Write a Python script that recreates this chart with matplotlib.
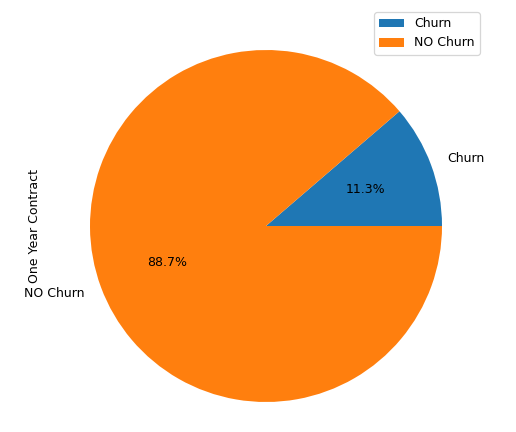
import matplotlib
matplotlib.use("Agg")
import matplotlib.pyplot as plt

# data
labels = ["Churn", "NO Churn"]
values = [11.3, 88.7]
colors = ["#1f77b4", "#ff7f0e"]

fig = plt.figure(figsize=(516 / 90, 432 / 90), dpi=90)
ax = fig.add_axes([46 / 516, -14 / 432, 440 / 516, 440 / 432])

wedges, texts, autotexts = ax.pie(values, labels=labels, colors=colors,
                                  autopct="%.1f%%", textprops={"fontsize": 10})
ax.set_ylabel("One Year Contract", fontsize=10)
ax.legend(wedges, labels, loc="upper right", fontsize=10)

fig.savefig("out.png", dpi=90)
